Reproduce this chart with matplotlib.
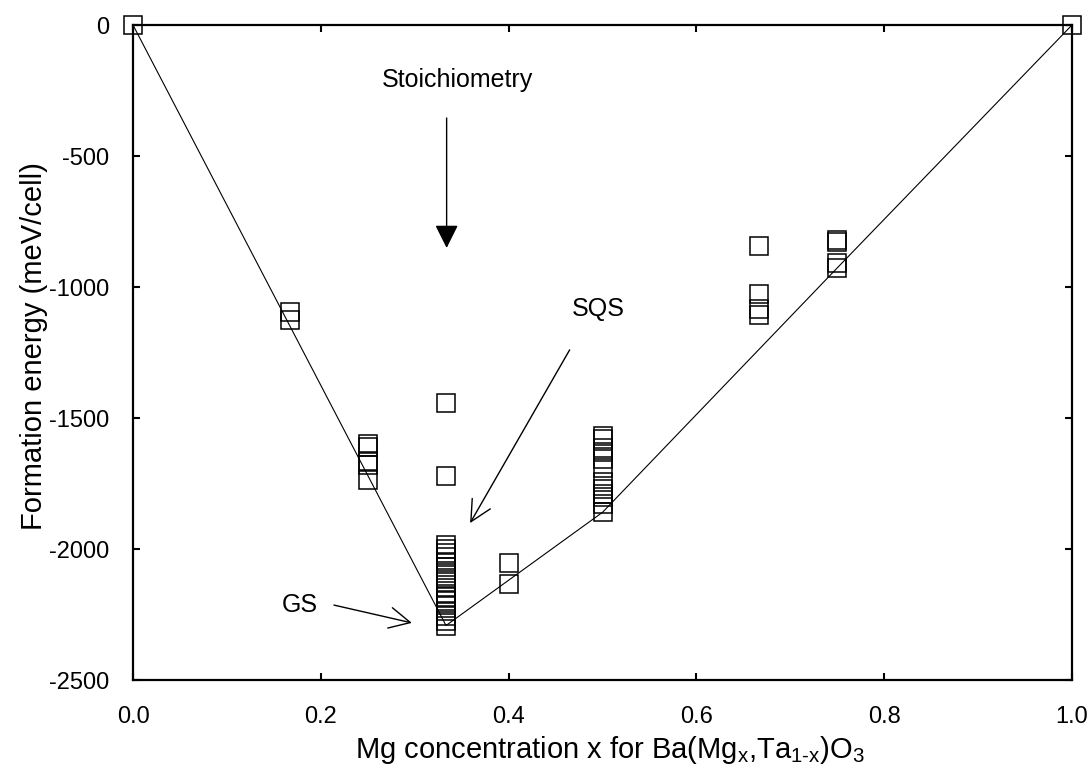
import matplotlib
matplotlib.use("Agg")
import matplotlib.pyplot as plt

plt.rcParams['font.family'] = ['Liberation Sans', 'DejaVu Sans']
plt.rcParams['mathtext.fontset'] = 'custom'
plt.rcParams['mathtext.rm'] = 'Liberation Sans'
plt.rcParams['mathtext.it'] = 'Liberation Sans'
plt.rcParams['axes.unicode_minus'] = False

# formation energies (meV/cell) grouped by Mg concentration
conc = [0.0, 1/6, 0.25, 1/3, 0.4, 0.5, 2/3, 0.75, 1.0]
energies = [
    [0],
    [-1095, -1125],
    [-1600, -1610, -1665, -1680, -1735],
    [-1443, -1722, -1985, -2000, -2015, -2030, -2050, -2070, -2090, -2110,
     -2125, -2150, -2170, -2185, -2200, -2215, -2235, -2255, -2275, -2292],
    [-2055, -2135],
    [-1570, -1580, -1615, -1630, -1655, -1690, -1745, -1770, -1790, -1800,
     -1830, -1860],
    [-845, -1025, -1085, -1105],
    [-820, -830, -908, -927],
    [0],
]

# concentrations lying on the lower convex hull
hull_conc = [0.0, 1/3, 0.5, 0.75, 1.0]

xs, ys = [], []
for c, e in zip(conc, energies):
    xs += [c] * len(e)
    ys += e

hull_e = [min(energies[conc.index(c)]) for c in hull_conc]

fig = plt.figure(figsize=(10.92, 7.65), dpi=100)
ax = fig.add_axes([0.1218, 0.1111, 0.8599, 0.8562])

ax.plot(hull_conc, hull_e, color='black', lw=0.8, zorder=2)
ax.plot(xs, ys, ls='none', marker='s', ms=13.5, mfc='none', mec='black',
        mew=1.1, clip_on=False, zorder=3)

ax.set_xlim(0, 1)
ax.set_ylim(-2500, 0)
ax.set_xticks([0, 0.2, 0.4, 0.6, 0.8, 1.0])
ax.set_xticklabels(['0.0', '0.2', '0.4', '0.6', '0.8', '1.0'])
ax.set_yticks([0, -500, -1000, -1500, -2000, -2500])
ax.tick_params(direction='in', length=5, width=1.5, top=True, right=True,
               labelsize=17)
ax.tick_params(axis='x', pad=19)
ax.tick_params(axis='y', pad=17)
for s in ax.spines.values():
    s.set_linewidth(1.6)

ax.set_xlabel(r'Mg concentration x for Ba(Mg$_{\text{x}}$,Ta$_{\text{1-x}}$)O$_{\text{3}}$',
              fontsize=21)
ax.set_ylabel('Formation energy (meV/cell)', fontsize=21)
ax.xaxis.set_label_coords(0.508, -0.082)
ax.yaxis.set_label_coords(-0.09, 0.51)

ax.text(0.345, -210, 'Stoichiometry', fontsize=18, ha='center', va='center')
ax.annotate('', xy=(0.334, -851), xytext=(0.334, -355),
            arrowprops=dict(arrowstyle='-|>,head_length=0.72,head_width=0.36',
                            fc='black', ec='black', lw=1, mutation_scale=20,
                            shrinkA=0, shrinkB=0))

ax.text(0.495, -1085, 'SQS', fontsize=18, ha='center', va='center')
ax.annotate('', xy=(0.359, -1901), xytext=(0.465, -1240),
            arrowprops=dict(arrowstyle='->,head_length=0.75,head_width=0.375',
                            color='black', lw=1, mutation_scale=20,
                            shrinkA=0, shrinkB=0))

ax.text(0.178, -2215, 'GS', fontsize=18, ha='center', va='center')
ax.annotate('', xy=(0.297, -2282), xytext=(0.214, -2214),
            arrowprops=dict(arrowstyle='->,head_length=0.75,head_width=0.375',
                            color='black', lw=1, mutation_scale=20,
                            shrinkA=0, shrinkB=0))

fig.savefig('out.png', dpi=100)
